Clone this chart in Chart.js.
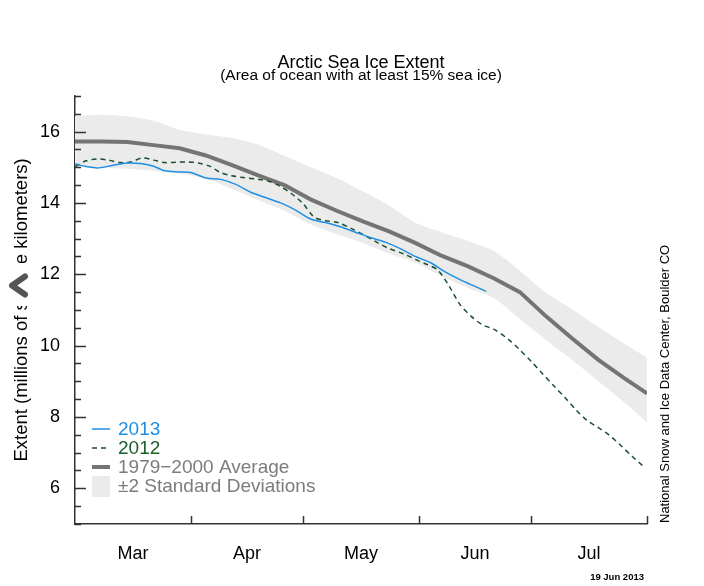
<!DOCTYPE html>
<html>
<head>
<meta charset="utf-8">
<title>Arctic Sea Ice Extent</title>
<script src="https://cdn.jsdelivr.net/npm/chart.js@4.4.0/dist/chart.umd.min.js"></script>
<style>
  html, body { margin: 0; padding: 0; background: #fff; }
  #wrap { width: 704px; height: 586px; }
</style>
</head>
<body>
<div id="wrap"><canvas id="iceChart" width="704" height="586"></canvas></div>
<script>
// Days counted from 1 March; month boundaries and labels
const monthLabels = ['Mar', 'Apr', 'May', 'Jun', 'Jul'];
const monthStarts = [0, 31, 61, 92, 122, 153];
const yLabelled = [6, 8, 10, 12, 14, 16];

// 1979-2000 average and +/-2 standard deviation band
const bandDays = [0, 7, 14, 21, 28, 35, 42, 49, 56, 63, 70, 77, 84, 91, 98, 105, 112, 119, 126, 133, 140, 147, 153];
const avgValues = [15.72, 15.72, 15.71, 15.62, 15.53, 15.33, 15.06, 14.77, 14.50, 14.10, 13.78, 13.48, 13.20, 12.88, 12.52, 12.23, 11.89, 11.50, 10.82, 10.20, 9.60, 9.08, 8.66];
const sdUpper = [16.43, 16.47, 16.42, 16.30, 16.05, 15.92, 15.82, 15.63, 15.32, 15.00, 14.70, 14.33, 13.93, 13.45, 13.18, 12.94, 12.65, 12.10, 11.48, 11.02, 10.52, 10.05, 9.66];
const sdLower = [15.00, 14.98, 14.96, 14.90, 14.82, 14.68, 14.40, 14.08, 13.78, 13.40, 13.12, 12.88, 12.58, 12.33, 11.95, 11.62, 11.33, 10.75, 10.15, 9.60, 9.00, 8.40, 7.85];

// 2013 (up to 19 June)
const days2013 = [0, 3, 6, 10, 14, 18, 21, 24, 28, 31, 35, 39, 43, 47, 51, 55, 59, 63, 67, 71, 75, 79, 83, 87, 91, 95, 99, 103, 107, 110];
const values2013 = [15.09, 15.02, 14.98, 15.05, 15.12, 15.10, 15.03, 14.90, 14.87, 14.85, 14.70, 14.66, 14.52, 14.30, 14.15, 14.00, 13.80, 13.55, 13.45, 13.33, 13.18, 13.03, 12.90, 12.72, 12.50, 12.33, 12.07, 11.85, 11.66, 11.52];

// 2012
const days2012 = [0, 3, 6, 9, 12, 15, 18, 21, 24, 27, 30, 33, 36, 39, 42, 45, 49, 52, 55, 58, 61, 64, 67, 70, 74, 77, 81, 84, 88, 91, 94, 97, 100, 103, 106, 109, 112, 116, 119, 122, 125, 128, 131, 134, 137, 140, 143, 146, 149, 152];
const values2012 = [15.02, 15.18, 15.23, 15.20, 15.13, 15.15, 15.26, 15.20, 15.13, 15.14, 15.15, 15.12, 15.03, 14.85, 14.76, 14.71, 14.66, 14.60, 14.46, 14.25, 13.98, 13.60, 13.50, 13.46, 13.28, 13.12, 12.88, 12.72, 12.57, 12.42, 12.28, 12.12, 11.68, 11.15, 10.82, 10.58, 10.46, 10.17, 9.88, 9.56, 9.22, 8.88, 8.55, 8.20, 7.90, 7.70, 7.48, 7.20, 6.90, 6.62];

const FONT = '"Liberation Sans", Arial, Helvetica, sans-serif';
const BLUE = '#1f8fe3';
const GREEN = '#1b4f2c';
const GREEN_TEXT = '#1d5e28';
const AVG_GREY = '#747474';
const BAND_GREY = '#ebebeb';
const TEXT_GREY = '#7c7c7c';

function toPoints(xs, ys) {
    return xs.map((x, i) => ({ x: x, y: ys[i] }));
}

// Inward tick marks, legend and side notes
const extras = {
    id: 'extras',
    afterDraw(chart) {
        const ctx = chart.ctx;
        const area = chart.chartArea;
        const xs = chart.scales.x;
        const ys = chart.scales.y;

        ctx.save();
        ctx.strokeStyle = '#333';
        ctx.lineWidth = 1.5;
        ys.ticks.forEach(t => {
            const py = Math.round(ys.getPixelForValue(t.value)) + 0.5;
            const len = yLabelled.includes(t.value) ? 11 : 6;
            ctx.beginPath();
            ctx.moveTo(area.left, py);
            ctx.lineTo(area.left + len, py);
            ctx.stroke();
        });
        monthStarts.slice(1).forEach(d => {
            const px = Math.round(xs.getPixelForValue(d)) + 0.5;
            ctx.beginPath();
            ctx.moveTo(px, area.bottom);
            ctx.lineTo(px, area.bottom - 8);
            ctx.stroke();
        });

        // legend, built from the datasets
        const ds = chart.data.datasets;
        const items = [ds[0], ds[1], ds[2], ds[3]];
        const textColors = [BLUE, GREEN_TEXT, TEXT_GREY, TEXT_GREY];
        const x0 = area.left + 17;
        let y = area.bottom - 95;
        ctx.font = '19px ' + FONT;
        ctx.textBaseline = 'middle';
        ctx.textAlign = 'left';
        items.forEach((d, i) => {
            if (d.fill) {
                ctx.fillStyle = d.backgroundColor;
                ctx.fillRect(x0, y - 10, 18, 21);
            } else {
                ctx.strokeStyle = d.borderColor;
                ctx.lineWidth = d.borderWidth;
                ctx.setLineDash(d.borderDash || []);
                ctx.beginPath();
                ctx.moveTo(x0, y);
                ctx.lineTo(x0 + 18, y);
                ctx.stroke();
                ctx.setLineDash([]);
            }
            ctx.fillStyle = textColors[i];
            ctx.fillText(d.label, x0 + 26, y + 1);
            y += 19;
        });

        // credit on the right
        ctx.save();
        ctx.translate(area.right + 18, area.bottom - 1);
        ctx.rotate(-Math.PI / 2);
        ctx.fillStyle = '#000';
        ctx.font = '13px ' + FONT;
        ctx.textAlign = 'left';
        ctx.textBaseline = 'middle';
        ctx.fillText('National Snow and Ice Data Center, Boulder CO', 0, 0);
        ctx.restore();

        // date stamp
        ctx.fillStyle = '#000';
        ctx.font = 'bold 9.5px ' + FONT;
        ctx.textAlign = 'right';
        ctx.textBaseline = 'middle';
        ctx.fillText('19 Jun 2013', area.right - 3, 577);

        // navigation chevron over the axis title
        ctx.fillStyle = '#fff';
        ctx.fillRect(4, 263, 33, 43);
        ctx.strokeStyle = '#555';
        ctx.lineWidth = 6;
        ctx.lineCap = 'round';
        ctx.lineJoin = 'round';
        ctx.beginPath();
        ctx.moveTo(25, 276.5);
        ctx.lineTo(12, 285.5);
        ctx.lineTo(25, 294.5);
        ctx.stroke();
        ctx.restore();
    }
};

const ctx = document.getElementById('iceChart').getContext('2d');
new Chart(ctx, {
    type: 'line',
    data: {
        datasets: [
            {
                label: '2013',
                data: toPoints(days2013, values2013),
                borderColor: BLUE,
                borderWidth: 1.5,
                pointRadius: 0,
                tension: 0.3,
                fill: false,
                order: 0
            },
            {
                label: '2012',
                data: toPoints(days2012, values2012),
                borderColor: GREEN,
                borderWidth: 1.5,
                borderDash: [5, 4],
                pointRadius: 0,
                tension: 0.3,
                fill: false,
                order: 1
            },
            {
                label: '1979\u22122000 Average',
                data: toPoints(bandDays, avgValues),
                borderColor: AVG_GREY,
                borderWidth: 4,
                pointRadius: 0,
                tension: 0,
                fill: false,
                order: 2
            },
            {
                label: '\u00b12 Standard Deviations',
                data: toPoints(bandDays, sdUpper),
                borderWidth: 0,
                borderColor: BAND_GREY,
                backgroundColor: BAND_GREY,
                pointRadius: 0,
                tension: 0.3,
                fill: '+1',
                order: 3
            },
            {
                label: 'lower',
                data: toPoints(bandDays, sdLower),
                borderWidth: 0,
                borderColor: BAND_GREY,
                pointRadius: 0,
                tension: 0.3,
                fill: false,
                order: 4
            }
        ]
    },
    options: {
        responsive: false,
        animation: false,
        events: [],
        layout: { padding: { left: 0, right: 57, top: 0, bottom: 0 } },
        plugins: {
            legend: { display: false },
            tooltip: { enabled: false },
            title: {
                display: true,
                text: 'Arctic Sea Ice Extent',
                fullSize: false,
                color: '#000',
                font: { family: FONT, size: 18, weight: 'normal', lineHeight: 0.75 },
                padding: { top: 56, bottom: 0 }
            },
            subtitle: {
                display: true,
                text: '(Area of ocean with at least 15% sea ice)',
                fullSize: false,
                color: '#000',
                font: { family: FONT, size: 15.5, lineHeight: 0.8 },
                padding: { top: 0, bottom: 14 }
            }
        },
        scales: {
            x: {
                type: 'linear',
                min: monthStarts[0],
                max: monthStarts[monthStarts.length - 1],
                grid: { display: false },
                border: { display: true, color: '#333', width: 1.5 },
                afterBuildTicks: scale => {
                    scale.ticks = monthLabels.map((m, i) => ({ value: (monthStarts[i] + monthStarts[i + 1]) / 2 }));
                },
                ticks: {
                    autoSkip: false,
                    maxRotation: 0,
                    color: '#000',
                    font: { family: FONT, size: 18 },
                    padding: 11,
                    callback: (v, i) => monthLabels[i]
                },
                afterFit: scale => { scale.height = 62; }
            },
            y: {
                min: 5,
                max: 17,
                grid: { display: false },
                border: { display: true, color: '#333', width: 1.5 },
                ticks: {
                    stepSize: 0.5,
                    autoSkip: false,
                    color: '#000',
                    font: { family: FONT, size: 18 },
                    padding: 7,
                    callback: v => (yLabelled.includes(v) ? String(v) : '')
                },
                title: {
                    display: true,
                    text: 'Extent (millions of square kilometers)',
                    color: '#000',
                    font: { family: FONT, size: 18.5 },
                    padding: { top: 11, bottom: 0 }
                },
                afterFit: scale => { scale.width = 75; }
            }
        }
    },
    plugins: [extras]
});
</script>
</body>
</html>
